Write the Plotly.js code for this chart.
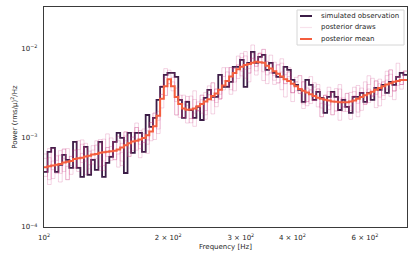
<!DOCTYPE html>
<html>
<head>
<meta charset="utf-8">
<script src="https://cdn.plot.ly/plotly-3.0.1.min.js"></script>
<style>html,body{margin:0;padding:0;background:#fff;}#chart{width:415px;height:260px;}</style>
</head>
<body>
<div id="chart"></div>
<script>
// Frequency bin edges [Hz] (left edge of each bin; last entry closes the final bin)
const freqEdges = [100.0,102.0,104.1,106.3,108.4,110.7,112.9,115.2,117.6,120.0,
122.5,125.0,127.5,130.1,132.8,135.5,138.3,141.1,144.0,147.0,
150.0,153.0,156.2,159.4,162.6,166.0,169.4,172.8,176.4,180.0,
183.7,187.4,191.2,195.2,199.2,203.2,207.4,211.6,216.0,220.4,
224.9,229.5,234.2,239.0,243.9,248.9,254.0,259.2,264.5,269.9,
275.4,281.1,286.8,292.7,298.7,304.8,311.0,317.4,323.9,330.5,
337.3,344.2,351.2,358.4,365.8,373.3,380.9,388.7,396.6,404.8,
413.0,421.5,430.1,438.9,447.9,457.1,466.4,476.0,485.7,495.7,
505.8,516.2,526.7,537.5,548.5,559.8,571.2,582.9,594.8,607.0,
619.4,632.1,645.1,658.3,671.7,685.5,699.5,713.8,728.4,743.4,758.6];

// Power values in units of 1e-3 (rms/mu)^2/Hz
const observed = [0.415,0.697,0.773,0.415,0.498,0.644,0.566,0.461,0.902,0.461,
0.365,0.793,0.384,0.566,0.437,0.902,0.365,0.524,0.612,0.902,
1.14,1.00,0.404,1.14,0.678,1.14,1.14,0.697,1.81,1.33,
1.68,2.67,3.74,5.10,5.37,5.37,4.84,2.67,1.68,2.54,
2.06,1.68,2.23,1.59,2.81,3.46,2.89,2.89,5.10,3.74,
3.74,4.26,6.28,6.28,7.52,3.74,6.96,9.25,6.96,8.13,
8.56,5.81,6.96,5.37,4.84,4.84,6.28,5.81,4.49,3.94,
3.46,2.54,4.49,3.94,2.67,3.29,2.81,1.91,2.89,3.29,
2.89,2.06,2.67,2.23,1.91,2.89,2.89,3.20,2.54,3.20,
2.67,3.65,3.46,3.94,3.20,4.26,3.94,4.84,5.37,5.10];

const posteriorMean = [0.47,0.48,0.49,0.50,0.51,0.53,0.54,0.55,0.58,0.59,
0.60,0.62,0.63,0.65,0.66,0.68,0.69,0.70,0.71,0.72,
0.74,0.78,0.83,0.87,0.91,0.93,0.96,1.00,1.07,1.18,
1.35,1.78,2.75,3.80,4.57,3.80,2.88,2.40,2.14,2.07,
2.09,2.14,2.27,2.40,2.57,2.72,2.95,3.16,3.47,3.89,
4.37,4.90,5.37,5.89,6.31,6.61,6.76,7.00,7.16,7.08,
7.00,6.46,6.03,5.62,5.25,4.90,4.57,4.37,4.07,3.80,
3.55,3.39,3.24,3.09,2.95,2.82,2.75,2.69,2.63,2.57,
2.54,2.51,2.51,2.51,2.57,2.63,2.75,2.88,3.02,3.16,
3.31,3.47,3.63,3.80,3.98,4.12,4.27,4.37,4.47,4.47];

const drawA = [0.59,0.34,0.77,0.50,0.40,0.75,0.34,0.62,0.73,0.47,
0.95,0.55,0.45,0.82,0.66,0.43,0.97,0.62,0.80,0.57,
0.93,0.55,1.17,0.77,1.02,0.73,1.21,0.89,1.20,0.93,
1.70,1.58,3.08,4.79,5.12,4.26,2.56,3.02,1.69,2.32,
1.48,2.70,2.02,2.69,2.03,3.43,2.63,3.54,2.74,4.36,
3.89,6.17,4.24,6.60,5.62,8.33,5.34,7.84,6.37,8.92,
5.53,7.24,5.37,7.08,4.15,5.49,4.07,5.51,3.22,4.26,
3.16,4.27,2.56,3.46,2.63,3.55,2.17,3.01,2.34,3.24,
2.01,2.81,2.23,3.16,2.03,2.95,2.45,3.63,2.39,3.54,
2.95,4.37,2.87,4.26,3.54,5.19,3.37,4.89,3.98,5.01];

const drawB = [0.37,0.76,0.44,0.63,0.32,0.59,0.76,0.39,0.46,0.93,
0.53,0.78,0.40,0.73,0.93,0.48,0.55,1.11,0.63,0.91,
0.47,0.87,1.17,0.62,0.72,1.47,0.85,1.26,0.67,1.32,
1.90,1.26,2.17,6.00,4.07,4.79,1.81,2.69,3.02,1.47,
1.65,3.38,2.02,3.02,1.62,3.05,4.16,2.24,2.74,6.15,
3.89,6.17,3.38,6.60,8.90,4.69,5.34,11.06,6.37,8.92,
4.41,7.24,8.50,3.99,4.15,7.74,4.07,5.51,2.56,4.26,
5.01,2.41,2.56,4.88,2.63,3.55,1.73,3.01,3.71,1.82,
2.01,3.97,2.23,3.16,1.62,2.95,3.88,2.04,2.39,4.99,
2.95,4.37,2.29,4.26,5.61,2.93,3.37,6.90,3.98,5.63];

const drawC = [0.66,0.30,0.55,0.40,0.64,0.75,0.34,0.62,0.46,0.74,
0.85,0.39,0.71,0.51,0.83,0.96,0.43,0.78,0.56,0.91,
1.04,0.49,0.93,0.69,1.15,1.31,0.60,1.12,0.85,1.49,
1.90,1.12,3.08,3.00,5.76,5.36,1.81,2.69,1.69,2.61,
2.95,1.35,2.54,1.90,3.24,3.84,1.86,3.54,2.74,4.90,
6.16,3.09,6.01,4.65,7.95,9.32,4.26,7.84,5.66,8.92,
9.87,4.07,6.75,4.44,6.62,6.91,2.88,4.89,3.22,4.79,
5.01,2.14,3.63,2.44,3.72,3.98,1.73,3.01,2.08,3.24,
3.58,1.58,2.81,1.98,3.24,3.71,1.73,3.23,2.39,3.98,
4.67,2.19,4.07,3.00,5.01,5.81,2.69,4.89,3.53,5.63];

const drawD = [0.42,0.60,0.35,0.56,0.72,0.42,0.48,0.49,0.73,0.42,
0.67,0.87,0.50,0.58,0.59,0.86,0.49,0.78,1.00,0.57,
0.66,0.69,1.05,0.62,1.02,1.31,0.76,0.89,0.95,1.49,
0.96,1.99,3.88,3.00,4.07,3.38,3.63,1.70,2.40,2.92,
1.65,1.90,2.02,3.02,1.82,3.05,4.16,2.50,3.09,3.46,
5.51,3.48,6.01,8.30,4.98,5.88,6.02,8.82,5.08,7.93,
9.87,5.10,5.37,5.00,6.62,3.48,5.12,6.16,3.22,3.38,
3.16,4.27,2.30,3.46,4.16,2.23,2.45,2.39,3.31,1.82,
2.84,3.54,1.98,2.23,2.29,3.31,1.95,3.23,4.26,2.50,
2.95,3.09,4.57,2.70,4.46,5.81,3.37,3.89,3.98,5.63];

const xTickVals = [100, 200, 300, 400, 600];
const xTickText = ['10<sup>2</sup>', '2 × 10<sup>2</sup>', '3 × 10<sup>2</sup>', '4 × 10<sup>2</sup>', '6 × 10<sup>2</sup>'];
const yTickVals = [1e-4, 1e-3, 1e-2];
const yTickText = ['10<sup>−4</sup>', '10<sup>−3</sup>', '10<sup>−2</sup>'];
const legendLabels = ['simulated observation', 'posterior draws', 'posterior mean'];

const COLORS = {obs: '#3b1c46', draw: 'rgba(205,60,130,0.22)', drawLegend: 'rgba(205,60,130,0.15)', mean: '#f45d3e'};
const UNIT = 1e-3;
function stepY(arr) {
  const y = arr.map(v => v * UNIT);
  y.push(y[y.length - 1]);
  return y;
}

const traces = [];
traces.push({
  x: freqEdges, y: stepY(observed), type: 'scatter', mode: 'lines',
  line: {shape: 'hv', color: COLORS.obs, width: 1.8},
  name: legendLabels[0], showlegend: false
});
[drawA, drawB, drawC, drawD].forEach((d) => {
  traces.push({
    x: freqEdges, y: stepY(d), type: 'scatter', mode: 'lines',
    line: {shape: 'hv', color: COLORS.draw, width: 1},
    name: legendLabels[1], showlegend: false
  });
});
traces.push({
  x: freqEdges, y: stepY(posteriorMean), type: 'scatter', mode: 'lines',
  line: {shape: 'hv', color: COLORS.mean, width: 2},
  name: legendLabels[2], showlegend: false
});

// Hand-built legend (matplotlib-like compact box) in paper coordinates
const px = v => (v - 44) / 363;      // pixel x -> paper x
const py = v => (227 - v) / 220;     // pixel y -> paper y
const shapes = [{
  type: 'rect', xref: 'paper', yref: 'paper', layer: 'above',
  x0: px(297), x1: px(404), y0: py(45), y1: py(10),
  fillcolor: 'rgba(255,255,255,0.85)', line: {color: '#d6d6d6', width: 1}
}];
const rowY = [16, 27.5, 39];
const rowColor = [COLORS.obs, COLORS.drawLegend, COLORS.mean];
const rowWidth = [2, 1.2, 2];
const annotations = [];
rowY.forEach((yy, k) => {
  shapes.push({
    type: 'line', xref: 'paper', yref: 'paper', layer: 'above',
    x0: px(300), x1: px(312), y0: py(yy), y1: py(yy),
    line: {color: rowColor[k], width: rowWidth[k]}
  });
  annotations.push({
    xref: 'paper', yref: 'paper', x: px(319), y: py(yy),
    xanchor: 'left', yanchor: 'middle', showarrow: false,
    text: legendLabels[k],
    font: {family: 'DejaVu Sans, sans-serif', size: 7, color: '#262626'}
  });
});

const font = {family: 'DejaVu Sans, sans-serif', size: 7, color: '#262626'};
const layout = {
  width: 415, height: 260,
  margin: {l: 44, r: 8, t: 7, b: 33},
  paper_bgcolor: '#fff', plot_bgcolor: '#fff',
  font: font,
  showlegend: false,
  shapes: shapes,
  annotations: annotations,
  xaxis: {
    type: 'log', range: [2, Math.log10(758.6)],
    tickvals: xTickVals, ticktext: xTickText,
    showgrid: false, zeroline: false,
    showline: true, mirror: true, linecolor: '#3a3a3a', linewidth: 1.2,
    ticks: '', ticklabelstandoff: 3,
    title: {text: 'Frequency [Hz]', font: font, standoff: 3},
    automargin: false
  },
  yaxis: {
    type: 'log', range: [-4, -1.53],
    tickvals: yTickVals, ticktext: yTickText,
    showgrid: false, zeroline: false,
    showline: true, mirror: true, linecolor: '#3a3a3a', linewidth: 1.2,
    ticks: '', ticklabelstandoff: 4,
    title: {text: 'Power (rms/μ)<sup>2</sup>/Hz', font: font, standoff: 2},
    automargin: false
  }
};

Plotly.newPlot('chart', traces, layout, {displayModeBar: false, staticPlot: true});
</script>
</body>
</html>
